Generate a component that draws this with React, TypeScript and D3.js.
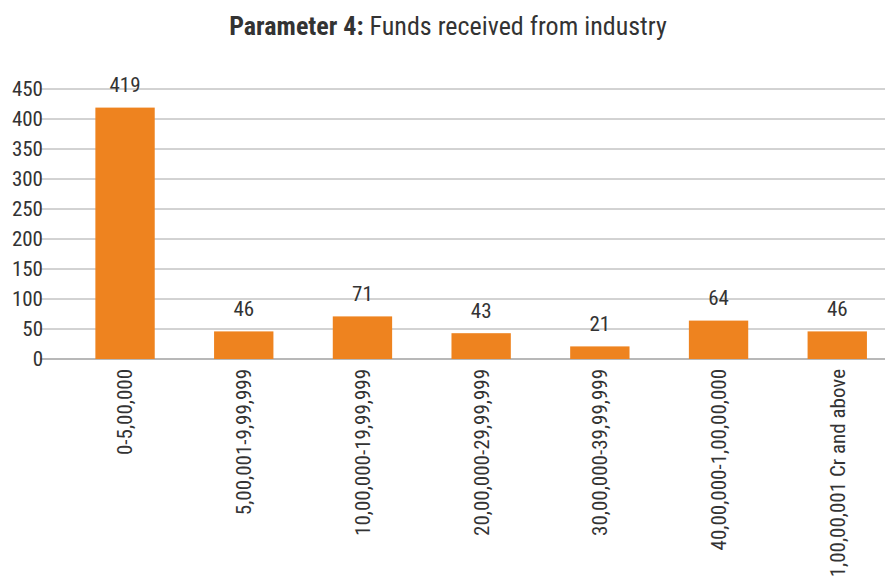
import React from "react";
import * as d3 from "d3";

const categories = [
  "0-5,00,000",
  "5,00,001-9,99,999",
  "10,00,000-19,99,999",
  "20,00,000-29,99,999",
  "30,00,000-39,99,999",
  "40,00,000-1,00,00,000",
  "1,00,00,001 Cr and above",
];
const values = [419, 46, 71, 43, 21, 64, 46];
const yTicks = [0, 50, 100, 150, 200, 250, 300, 350, 400, 450];

const W = 885;
const H = 579;
const FONT = "'Roboto Condensed', 'Liberation Sans Narrow', 'DejaVu Sans Condensed', sans-serif";

export default function App() {
  const x = d3.scaleBand<string>().domain(categories).range([65.7, 896.6]).paddingInner(0.5).paddingOuter(0.25);
  const y = d3.scaleLinear().domain([0, 450]).range([359, 89]);
  const gridX0 = 40;
  const gridX1 = 885;
  return (
    <svg width={W} height={H} style={{ position: "absolute", left: 0, top: 0, fontFamily: FONT }}>
      <rect width={W} height={H} fill="#ffffff" />
      <text x={448} y={35} textAnchor="middle" fontSize={26} fill="#333333">
        <tspan fontWeight="bold">Parameter 4:</tspan>
        <tspan> Funds received from industry</tspan>
      </text>
      {yTicks.map((t) => (
        <g key={t}>
          <line x1={gridX0} x2={gridX1} y1={y(t)} y2={y(t)} stroke={t === 0 ? "#a0a0a0" : "#a6a6a6"} strokeWidth={t === 0 ? 1.5 : 1} />
          <text x={43} y={y(t)} dy="0.35em" textAnchor="end" fontSize={21} fill="#333333">
            {t}
          </text>
        </g>
      ))}
      {categories.map((c, i) => {
        const bx = x(c)!;
        const bw = x.bandwidth();
        const cx = bx + bw / 2;
        return (
          <g key={c}>
            <rect x={bx} y={y(values[i])} width={bw} height={y(0) - y(values[i])} fill="#EE831F" />
            <text x={cx} y={y(values[i]) - 15.5} textAnchor="middle" fontSize={21} fill="#333333">
              {values[i]}
            </text>
            <text
              transform={`translate(${cx},369) rotate(-90)`}
              dy="0.35em"
              textAnchor="end"
              fontSize={21}
              fill="#333333"
            >
              {c}
            </text>
          </g>
        );
      })}
    </svg>
  );
}
